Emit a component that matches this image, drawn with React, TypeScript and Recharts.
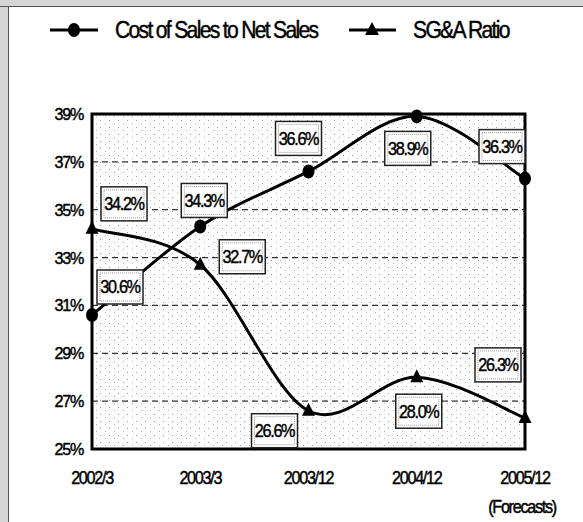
import React from "react";
import {
  LineChart,
  Line,
  XAxis,
  YAxis,
  CartesianGrid,
  ReferenceArea,
  LabelList,
} from "recharts";

// ── data ──
const PERIODS = ["2002/3", "2003/3", "2003/12", "2004/12", "2005/12"];
const PERIOD_NOTES = ["", "", "", "", "(Forecasts)"];
const COST_OF_SALES = [30.6, 34.3, 36.6, 38.9, 36.3];
const SGA_RATIO = [34.2, 32.7, 26.6, 28.0, 26.3];
const Y_TICKS = [25, 27, 29, 31, 33, 35, 37, 39];
const SERIES_NAMES = ["Cost of Sales to Net Sales", "SG&A Ratio"];

// label box offsets from each point (placement only)
const COST_LABEL_OFFSETS = [
  [28, -28],
  [4, -26],
  [-10, -33],
  [-9, 32],
  [-23, -32],
];
const SGA_LABEL_OFFSETS = [
  [32, -25],
  [42, -8],
  [-34, 20],
  [2, 34],
  [-27, -53],
];

const data = PERIODS.map((p, i) => ({
  period: p,
  cost: COST_OF_SALES[i],
  sga: SGA_RATIO[i],
}));

const FONT = "'Liberation Sans', Arial, sans-serif";

// squeezed text, the scan uses a narrow face
function CondText({ x, y, size, anchor = "middle", squeeze = 0.9, children }: any) {
  return (
    <g transform={`translate(${x},${y}) scale(${squeeze},1)`}>
      <text
        x={0}
        y={0}
        dy="0.35em"
        textAnchor={anchor}
        fontFamily={FONT}
        fontSize={size}
        letterSpacing={-size * 0.08}
        fill="#000"
        stroke="#000"
        strokeWidth={0.45}
      >
        {children}
      </text>
    </g>
  );
}

// Excel-like smoothing (Catmull-Rom through the points)
const smoothCurve = (context: any) => {
  let pts: number[][] = [];
  return {
    areaStart() {},
    areaEnd() {},
    lineStart() {
      pts = [];
    },
    point(x: number, y: number) {
      pts.push([+x, +y]);
    },
    lineEnd() {
      const n = pts.length;
      if (!n) return;
      context.moveTo(pts[0][0], pts[0][1]);
      for (let i = 0; i < n - 1; i++) {
        const p0 = pts[i - 1] || pts[i];
        const p1 = pts[i];
        const p2 = pts[i + 1];
        const p3 = pts[i + 2] || pts[i + 1];
        context.bezierCurveTo(
          p1[0] + (p2[0] - p0[0]) / 6,
          p1[1] + (p2[1] - p0[1]) / 6,
          p2[0] - (p3[0] - p1[0]) / 6,
          p2[1] - (p3[1] - p1[1]) / 6,
          p2[0],
          p2[1]
        );
      }
    },
  };
};

const CircleDot = ({ cx, cy }: any) => (
  <ellipse cx={cx} cy={cy} rx={6} ry={7} fill="#000" />
);

const TriangleDot = ({ cx, cy }: any) => (
  <path d={`M${cx},${cy - 8} L${cx + 6.5},${cy + 5} L${cx - 6.5},${cy + 5} Z`} fill="#000" />
);

const makeLabel = (offsets: number[][]) => (props: any) => {
  const { x, y, value, index } = props;
  const [dx, dy] = offsets[index] || [0, -20];
  const cx = x + dx;
  const cy = y + dy;
  const w = 46;
  const h = 34;
  return (
    <g>
      <rect x={cx - w / 2} y={cy - h / 2} width={w} height={h} fill="#fff" stroke="#222" strokeWidth={1.5} />
      <rect
        x={cx - w / 2 + 3}
        y={cy - h / 2 + 3}
        width={w - 6}
        height={h - 6}
        fill="none"
        stroke="#999"
        strokeWidth={1}
        strokeDasharray="1 1"
      />
      <CondText x={cx} y={cy} size={18}>
        {`${Number(value).toFixed(1)}%`}
      </CondText>
    </g>
  );
};

const XTick = ({ x, y, payload, index }: any) => (
  <g>
    <CondText x={x} y={y + 29} size={18}>
      {payload.value}
    </CondText>
    {PERIOD_NOTES[index] ? (
      <CondText x={x - 3} y={y + 58} size={18}>
        {PERIOD_NOTES[index]}
      </CondText>
    ) : null}
  </g>
);

const YTick = ({ x, y, payload }: any) => (
  <CondText x={x - 9} y={y} size={17} anchor="end" squeeze={0.95}>
    {`${payload.value}%`}
  </CondText>
);

function LegendRow() {
  return (
    <svg width={583} height={60} style={{ position: "absolute", left: 0, top: 0 }}>
      <line x1={50} y1={30} x2={98} y2={30} stroke="#000" strokeWidth={3} />
      <ellipse cx={74} cy={30} rx={6} ry={7} fill="#000" />
      <CondText x={115} y={30} size={24} anchor="start" squeeze={0.88}>
        {SERIES_NAMES[0]}
      </CondText>
      <line x1={349} y1={30} x2={396} y2={30} stroke="#000" strokeWidth={3} />
      <path d="M372,22 L379,35 L365,35 Z" fill="#000" />
      <CondText x={413} y={30} size={24} anchor="start" squeeze={0.88}>
        {SERIES_NAMES[1]}
      </CondText>
    </svg>
  );
}

export default function App() {
  return (
    <div style={{ position: "relative", width: 583, height: 522, background: "#fff", overflow: "hidden" }}>
      <style>{`body{margin:0}`}</style>
      {/* scan edges */}
      <div style={{ position: "absolute", left: 0, top: 0, width: 8, height: 522, background: "#d6d6d6", borderRight: "1px solid #555" }} />
      <div style={{ position: "absolute", left: 0, top: 0, width: 583, height: 6, background: "#d6d6d6", borderBottom: "1px solid #555" }} />
      <LegendRow />
      <div style={{ position: "absolute", left: 0, top: 0 }}>
        <LineChart
          width={583}
          height={522}
          data={data}
          margin={{ top: 114, right: 58, bottom: 13, left: 0 }}
        >
          <defs>
            <pattern id="stipple" width="9" height="7" patternUnits="userSpaceOnUse">
              <rect width="9" height="7" fill="#fff" />
              <rect x="1" y="1" width="1" height="1" fill="#9a9a9a" />
              <rect x="6" y="4" width="1" height="1" fill="#b4b4b4" />
            </pattern>
          </defs>
          <CartesianGrid
            vertical={false}
            stroke="#333"
            strokeWidth={1.2}
            strokeDasharray="6 4"
            fill="url(#stipple)"
            fillOpacity={1}
          />
          <XAxis
            dataKey="period"
            height={60}
            axisLine={false}
            tickLine={false}
            tickSize={0}
            tickMargin={0}
            padding={{ left: 0, right: 0 }}
            interval={0}
            tick={<XTick />}
          />
          <YAxis
            width={92}
            domain={[25, 39]}
            ticks={Y_TICKS}
            axisLine={false}
            tickLine={false}
            tickSize={0}
            tickMargin={0}
            interval={0}
            tick={<YTick />}
          />
          <ReferenceArea
            x1={PERIODS[0]}
            x2={PERIODS[PERIODS.length - 1]}
            y1={25}
            y2={39}
            fill="none"
            stroke="#000"
            strokeWidth={3}
            fillOpacity={0}
            strokeOpacity={1}
          />
          <Line
            dataKey="cost"
            name={SERIES_NAMES[0]}
            type={smoothCurve as any}
            stroke="#000"
            strokeWidth={3}
            dot={<CircleDot />}
            activeDot={false}
            isAnimationActive={false}
          >
            <LabelList dataKey="cost" content={makeLabel(COST_LABEL_OFFSETS)} />
          </Line>
          <Line
            dataKey="sga"
            name={SERIES_NAMES[1]}
            type={smoothCurve as any}
            stroke="#000"
            strokeWidth={3}
            dot={<TriangleDot />}
            activeDot={false}
            isAnimationActive={false}
          >
            <LabelList dataKey="sga" content={makeLabel(SGA_LABEL_OFFSETS)} />
          </Line>
        </LineChart>
      </div>
    </div>
  );
}
